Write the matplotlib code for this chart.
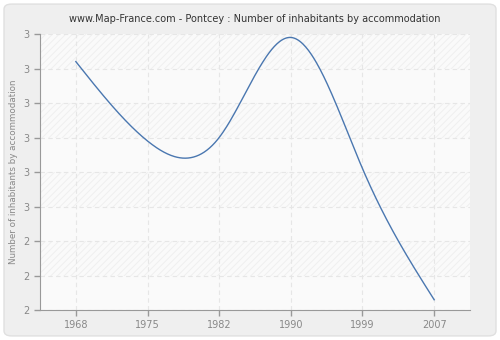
import numpy as np
import matplotlib.pyplot as plt
from matplotlib.patches import FancyBboxPatch

# Data
years = ['1968', '1975', '1982', '1990', '1999', '2007']
values = [2.92, 2.69, 2.70, 2.99, 2.61, 2.23]
y_ticks = [2.2, 2.3, 2.4, 2.5, 2.6, 2.7, 2.8, 2.9, 3.0]

plt.rcParams['hatch.linewidth'] = 0.6


def natural_spline(xp, yp, n=400):
    # natural cubic spline through the points, only used to draw a smooth line
    xp = np.asarray(xp, float)
    yp = np.asarray(yp, float)
    k = len(xp)
    h = np.diff(xp)
    A = np.zeros((k, k))
    b = np.zeros(k)
    A[0, 0] = 1
    A[-1, -1] = 1
    for i in range(1, k - 1):
        A[i, i - 1] = h[i - 1]
        A[i, i] = 2 * (h[i - 1] + h[i])
        A[i, i + 1] = h[i]
        b[i] = 3 * ((yp[i + 1] - yp[i]) / h[i] - (yp[i] - yp[i - 1]) / h[i - 1])
    c = np.linalg.solve(A, b)
    xs = np.linspace(xp[0], xp[-1], n)
    ys = np.empty_like(xs)
    for j, xv in enumerate(xs):
        i = min(np.searchsorted(xp, xv, side='right') - 1, k - 2)
        dx = xv - xp[i]
        bi = (yp[i + 1] - yp[i]) / h[i] - h[i] * (2 * c[i] + c[i + 1]) / 3
        di = (c[i + 1] - c[i]) / (3 * h[i])
        ys[j] = yp[i] + bi * dx + c[i] * dx ** 2 + di * dx ** 3
    return xs, ys


x = np.arange(len(years))
xs, ys = natural_spline(x, values)

fig = plt.figure(figsize=(5, 3.4), dpi=100, facecolor='white')
fig.patches.append(FancyBboxPatch((0.008, 0.012), 0.984, 0.976,
                                  boxstyle='round,pad=0,rounding_size=0.015',
                                  transform=fig.transFigure, facecolor='#efefef',
                                  edgecolor='#e0e0e0', linewidth=1, zorder=-10))

ax = fig.add_axes([0.08, 0.088, 0.86, 0.812])
ax.set_facecolor('#fafafa')

# alternating hatched bands
for i in range(len(y_ticks) - 1):
    if (len(y_ticks) - 2 - i) % 2 == 0:
        ax.axhspan(y_ticks[i], y_ticks[i + 1], facecolor='#fafafa', edgecolor='#eeeeee',
                   hatch='/////', linewidth=0, zorder=0)

ax.plot(xs, ys, color='#4a77b0', linewidth=1, zorder=3)

ax.set_xlim(-0.5, len(years) - 0.5)
ax.set_ylim(2.2, 3.0)
ax.set_xticks(x)
ax.set_xticklabels(years)
ax.set_yticks(y_ticks)
ax.set_yticklabels([str(int(v + 0.5)) for v in y_ticks])

ax.grid(True, color='#e6e6e6', linestyle=(0, (4, 3)), linewidth=0.8, zorder=1)
ax.set_axisbelow(True)
for s in ['top', 'right']:
    ax.spines[s].set_visible(False)
for s in ['left', 'bottom']:
    ax.spines[s].set_color('#999999')
ax.tick_params(colors='#999999', labelcolor='#888888', labelsize=7, length=4, width=1)

ax.set_ylabel('Number of inhabitants by accommodation', color='#888888', fontsize=6.3)
ax.set_title('www.Map-France.com - Pontcey : Number of inhabitants by accommodation',
             fontsize=7, color='#333333', pad=9)

plt.savefig('out.png', dpi=100, facecolor=fig.get_facecolor())
